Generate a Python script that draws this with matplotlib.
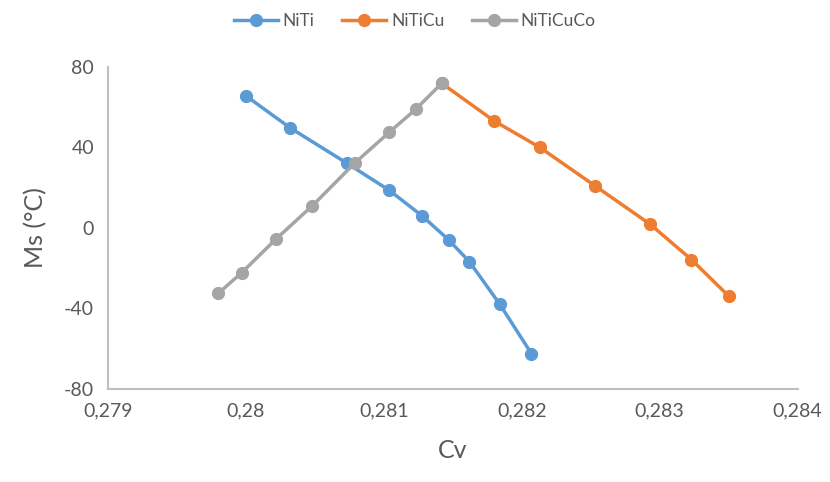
import matplotlib.pyplot as plt
from matplotlib.ticker import FuncFormatter

# --- datos ---
cv_niti = [0.28000, 0.28032, 0.28073, 0.28104, 0.28128, 0.28147, 0.28162, 0.28184, 0.28207]
ms_niti = [65.7, 49.8, 32.3, 18.7, 5.9, -5.9, -16.7, -37.8, -62.4]

cv_niticu = [0.28142, 0.28180, 0.28213, 0.28253, 0.28293, 0.28323, 0.28350]
ms_niticu = [71.9, 53.2, 40.1, 21.0, 1.9, -15.7, -33.8]

cv_niticuco = [0.27980, 0.27997, 0.28022, 0.28048, 0.28079, 0.28104, 0.28123, 0.28142]
ms_niticuco = [-32.5, -22.2, -5.4, 10.9, 32.3, 47.6, 58.9, 71.9]

x_ticks = [0.279, 0.280, 0.281, 0.282, 0.283, 0.284]
y_ticks = [-80, -40, 0, 40, 80]

plt.rcParams['font.family'] = ['Lato', 'DejaVu Sans']
plt.rcParams['axes.unicode_minus'] = False
txt = '#595959'

fig = plt.figure(figsize=(8.3, 4.82), dpi=100)
ax = fig.add_axes([0.130, 0.193, 0.831, 0.668])

ax.plot(cv_niti, ms_niti, '-o', color='#5B9BD5', lw=2.5, ms=8.5, label='NiTi')
ax.plot(cv_niticu, ms_niticu, '-o', color='#ED7D31', lw=2.5, ms=8.5, label='NiTiCu')
ax.plot(cv_niticuco, ms_niticuco, '-o', color='#A5A5A5', lw=2.5, ms=8.5, label='NiTiCuCo')

ax.set_xlim(0.279, 0.284)
ax.set_ylim(-80, 80)
ax.set_xticks(x_ticks)
ax.set_yticks(y_ticks)
ax.xaxis.set_major_formatter(FuncFormatter(lambda v, p: f'{v:g}'.replace('.', ',')))
ax.tick_params(length=0, labelsize=14, colors=txt, pad=10)

for s in ['top', 'right']:
    ax.spines[s].set_visible(False)
for s in ['left', 'bottom']:
    ax.spines[s].set_color('#BFBFBF')
    ax.spines[s].set_linewidth(1.5)

ax.set_xlabel('Cv', fontsize=18, color=txt, labelpad=14)
ax.set_ylabel('Ms (°C)', fontsize=18, color=txt, labelpad=12)

fig.legend(loc='upper center', bbox_to_anchor=(0.5, 1.005), ncol=3, frameon=False,
           fontsize=12.5, labelcolor=txt, handlelength=2.5, columnspacing=1.6,
           handletextpad=0.3)

fig.savefig('out.png', dpi=100)
